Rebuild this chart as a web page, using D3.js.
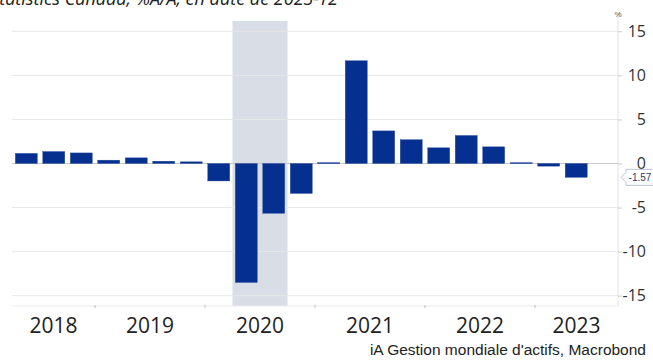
<!DOCTYPE html>
<html>
<head>
<meta charset="utf-8">
<script src="https://cdn.jsdelivr.net/npm/d3@7"></script>
<style>
  body { margin: 0; background: #fff; }
  svg { display: block; }
</style>
</head>
<body>
<svg id="chart" width="653" height="360"></svg>
<script>
// quarterly data, %A/A
var quarters = ["2018-T2","2018-T3","2018-T4","2019-T1","2019-T2","2019-T3","2019-T4",
  "2020-T1","2020-T2","2020-T3","2020-T4","2021-T1","2021-T2","2021-T3","2021-T4",
  "2022-T1","2022-T2","2022-T3","2022-T4","2023-T1","2023-T2"];
var values = [1.15, 1.36, 1.2, 0.38, 0.64, 0.26, 0.19,
  -1.98, -13.5, -5.65, -3.4, 0.1, 11.66, 3.7, 2.7,
  1.78, 3.18, 1.89, 0.1, -0.3, -1.57];
var years = [2018, 2019, 2020, 2021, 2022, 2023];
var yTicks = [-15, -10, -5, 0, 5, 10, 15];
var recession = ["2020-T2", "2020-T4"]; // start of T2 to start of T4
var lastLabel = "-1.57";

var svg = d3.select("svg#chart");
var plot = {left: 12, right: 618, top: 21, bottom: 306};

// quarter string -> fractional year
function qStart(s) {
  var p = s.split("-T");
  return +p[0] + (+p[1] - 1) / 4;
}

var x = d3.scaleLinear()
  .domain([2018.245, 2023.755])
  .range([plot.left, plot.right]);
var y = d3.scaleLinear()
  .domain([-16.17, 16.17])
  .range([plot.bottom, plot.top]);

var data = quarters.map((q, i) => ({q: q, t: qStart(q), v: values[i]}));

svg.append("defs").append("clipPath").attr("id", "clip")
  .append("rect")
  .attr("x", plot.left).attr("y", plot.top)
  .attr("width", plot.right - plot.left).attr("height", plot.bottom - plot.top);

// title (clipped at the top of the picture)
svg.append("text")
  .attr("x", 338).attr("y", 5)
  .attr("text-anchor", "end")
  .attr("font-family", "Open Sans")
  .attr("font-style", "italic")
  .attr("font-size", 18)
  .attr("fill", "#222")
  .text("Statistics Canada, %A/A, en date de 2023-T2");

// recession shading
svg.append("rect")
  .attr("clip-path", "url(#clip)")
  .attr("x", x(qStart(recession[0])))
  .attr("width", x(qStart(recession[1])) - x(qStart(recession[0])))
  .attr("y", plot.top)
  .attr("height", plot.bottom - plot.top)
  .attr("fill", "#d9dde6");

// gridlines
svg.append("g").selectAll("line")
  .data(yTicks)
  .join("line")
  .attr("x1", plot.left).attr("x2", plot.right)
  .attr("y1", d => y(d)).attr("y2", d => y(d))
  .attr("stroke", d => d === 0 ? "#c8c8c8" : "#e8e8e8")
  .attr("stroke-width", 1);

// right border + bottom line
svg.append("line")
  .attr("x1", plot.right).attr("x2", plot.right)
  .attr("y1", 14).attr("y2", plot.bottom)
  .attr("stroke", "#e2e2e2");
svg.append("line")
  .attr("x1", plot.left).attr("x2", plot.right)
  .attr("y1", plot.bottom).attr("y2", plot.bottom)
  .attr("stroke", "#ececec");

// year ticks on the bottom line
svg.append("g").selectAll("line")
  .data(years.filter(d => x(d) > plot.left && x(d) < plot.right))
  .join("line")
  .attr("x1", d => x(d)).attr("x2", d => x(d))
  .attr("y1", plot.bottom - 1).attr("y2", plot.bottom + 2)
  .attr("stroke", "#bbb");

// bars
var bw = (x(0.25) - x(0)) * 0.8;
svg.append("g")
  .attr("clip-path", "url(#clip)")
  .selectAll("rect")
  .data(data)
  .join("rect")
  .attr("x", d => x(d.t + 0.125) - bw / 2)
  .attr("width", bw)
  .attr("y", d => y(Math.max(0, d.v)))
  .attr("height", d => Math.max(1, Math.abs(y(d.v) - y(0))))
  .attr("fill", "#06308f")
  .attr("stroke", "#2a4d9e")
  .attr("stroke-width", 0.4);

// year labels, centred in the visible part of each year
svg.append("g").selectAll("text")
  .data(years)
  .join("text")
  .attr("x", d => {
    var a = Math.max(x(d), plot.left), b = Math.min(x(d + 1), plot.right);
    return (a + b) / 2;
  })
  .attr("y", 333)
  .attr("text-anchor", "middle")
  .attr("font-family", "Open Sans")
  .attr("font-size", 21)
  .attr("fill", "#222")
  .text(d => d);

// right axis
var yAxis = svg.append("g")
  .attr("transform", translate(plot.right, 0))
  .call(d3.axisRight(y).tickValues(yTicks).tickSize(4).tickFormat(d3.format("d")));
yAxis.select(".domain").remove();
yAxis.selectAll(".tick line").attr("stroke", "#ccc");
yAxis.selectAll(".tick text")
  .attr("x", 28)
  .attr("text-anchor", "end")
  .attr("font-family", "Open Sans")
  .attr("font-size", 16)
  .attr("fill", "#333")
  .text(d => d < 0 ? "-" + Math.abs(d) : d);

svg.append("text")
  .attr("x", 618).attr("y", 17)
  .attr("text-anchor", "middle")
  .attr("font-family", "Liberation Sans")
  .attr("font-size", 8)
  .attr("fill", "#555")
  .text("%");

// last value tag
var ly = y(values[values.length - 1]);
var tag = svg.append("g").attr("transform", translate(621, ly));
tag.append("path")
  .attr("d", "M0,0 L5,-5 L5,-8 L33,-8 L33,8 L5,8 L5,5 Z")
  .attr("fill", "#fff")
  .attr("stroke", "#b9c3d6")
  .attr("stroke-width", 1);
tag.append("text")
  .attr("x", 19).attr("y", 3.5)
  .attr("text-anchor", "middle")
  .attr("font-family", "Liberation Sans")
  .attr("font-size", 10)
  .attr("fill", "#1f3a6e")
  .text(lastLabel);

// source
svg.append("text")
  .attr("x", 646).attr("y", 355)
  .attr("text-anchor", "end")
  .attr("font-family", "Liberation Sans")
  .attr("font-size", 15.5)
  .attr("fill", "#222")
  .text("iA Gestion mondiale d'actifs, Macrobond");

function translate(a, b) {
  return 'translate(' + String(a) + ',' + String(b) + ')';
}
</script>
</body>
</html>
